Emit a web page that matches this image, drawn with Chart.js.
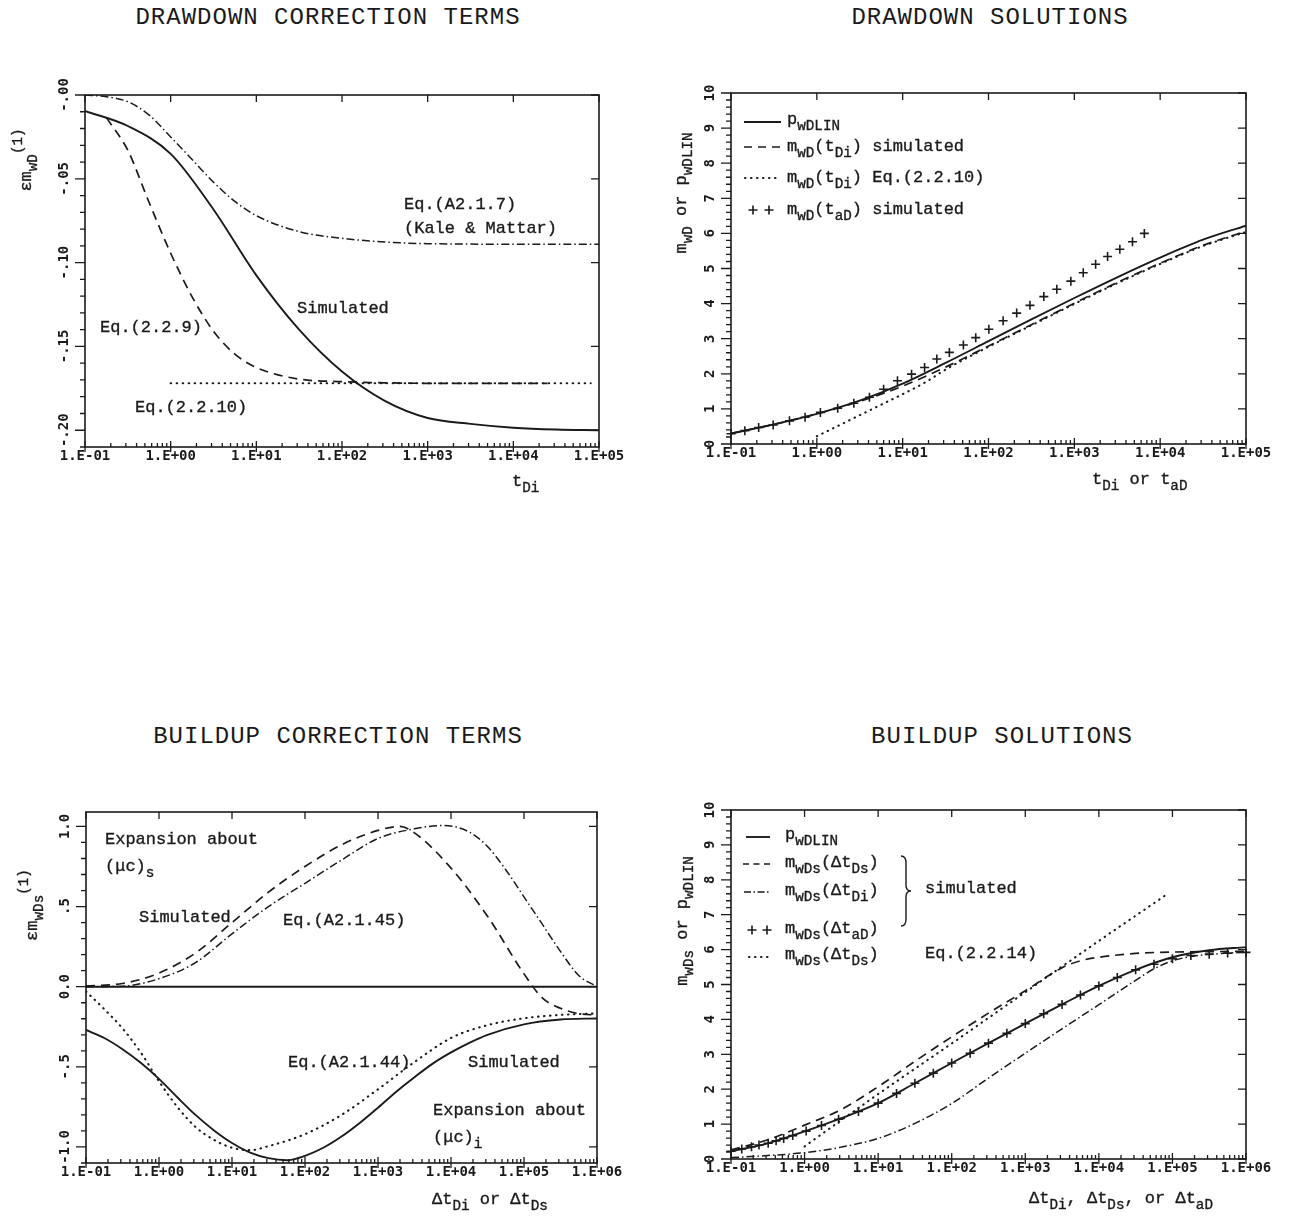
<!DOCTYPE html>
<html lang="en">
<head>
<meta charset="utf-8">
<title>Drawdown and buildup correction terms and solutions</title>
<script src="https://cdn.jsdelivr.net/npm/chart.js@4.4.1/dist/chart.umd.min.js"></script>
<style>
  html, body { margin: 0; padding: 0; background: #ffffff; }
  body { position: relative; width: 1293px; height: 1218px; overflow: hidden; }
  .title {
    position: absolute; white-space: nowrap; transform: translateX(-50%);
    font-family: "Liberation Mono", "Courier New", monospace; font-size: 24px; line-height: 24px;
    letter-spacing: 1px; color: #1a1a1a;
  }
  canvas { position: absolute; }
</style>
</head>
<body>
<div class="title" style="left:328px; top:6px;">DRAWDOWN CORRECTION TERMS</div>
<div class="title" style="left:990px; top:6px;">DRAWDOWN SOLUTIONS</div>
<div class="title" style="left:338px; top:725px;">BUILDUP CORRECTION TERMS</div>
<div class="title" style="left:1002px; top:725px;">BUILDUP SOLUTIONS</div>

<canvas id="cTL" width="646" height="470" style="left:0px; top:40px;"></canvas>
<canvas id="cTR" width="647" height="470" style="left:646px; top:40px;"></canvas>
<canvas id="cBL" width="646" height="458" style="left:0px; top:760px;"></canvas>
<canvas id="cBR" width="647" height="458" style="left:646px; top:760px;"></canvas>

<script>
// ---------- Drawdown correction terms (em_wD^(1) vs t_Di) ----------
const ddSimX   = [0.1, 0.316, 1, 3.16, 10, 31.6, 100, 316, 1000, 3160, 1e4, 3.16e4, 1e5];
const ddSimY   = [-0.0095, -0.0185, -0.0351, -0.0683, -0.1076, -0.140, -0.165, -0.1825, -0.1927, -0.1962, -0.1985, -0.1996, -0.2];
const ddEq229X = [0.178, 0.316, 0.562, 1, 1.78, 3.16, 5.62, 10, 31.6, 100, 316, 1000, 2.5e4];
const ddEq229Y = [-0.0135, -0.033, -0.0643, -0.0944, -0.1204, -0.1409, -0.1546, -0.1626, -0.1695, -0.171, -0.1717, -0.172, -0.172];
const ddEq2210X = [1, 8e4];
const ddEq2210Y = [-0.172, -0.172];
const ddKaleX  = [0.1, 0.178, 0.316, 0.562, 1, 1.78, 3.16, 5.62, 10, 31.6, 100, 316, 1000, 1e4, 1e5];
const ddKaleY  = [0, -0.001, -0.004, -0.012, -0.025, -0.0385, -0.052, -0.0635, -0.072, -0.0815, -0.0855, -0.0877, -0.0887, -0.089, -0.089];

// ---------- Drawdown solutions (m_wD or p_wDLIN vs t_Di or t_aD) ----------
const dsX     = [0.1, 0.316, 1, 3.16, 10, 31.6, 100, 316, 1000, 3160, 1e4, 3.16e4, 1e5];
const dsLinY  = [0.30, 0.56, 0.86, 1.235, 1.72, 2.31, 2.93, 3.55, 4.16, 4.75, 5.31, 5.82, 6.22];
const dsTdiY  = [0.30, 0.56, 0.86, 1.215, 1.65, 2.19, 2.79, 3.40, 4.01, 4.60, 5.15, 5.66, 6.06];
const dsEqX   = [1, 1.78, 3.16, 5.62, 10, 17.8, 31.6, 100, 316, 1000, 3160, 1e4, 3.16e4, 1e5];
const dsEqY   = [0.22, 0.52, 0.82, 1.12, 1.42, 1.74, 2.12, 2.77, 3.38, 3.99, 4.58, 5.13, 5.64, 6.04];
const dsTadX  = [0.1, 0.145, 0.21, 0.31, 0.48, 0.73, 1.1, 1.75, 2.7, 4.1, 6.0, 8.7, 12.7, 18, 25, 35, 51, 71, 101, 148,
                 213, 304, 441, 625, 911, 1270, 1770, 2440, 3390, 4760, 6540];
const dsTadY  = [0.29, 0.38, 0.47, 0.54, 0.66, 0.76, 0.90, 1.02, 1.16, 1.33, 1.56, 1.80, 1.99, 2.18, 2.42, 2.61, 2.82, 3.03,
                 3.27, 3.51, 3.73, 3.95, 4.20, 4.41, 4.64, 4.88, 5.12, 5.34, 5.55, 5.76, 6.00];

// ---------- Buildup correction terms (em_wDs^(1) vs delta t) ----------
const bcSimIX = [0.1, 0.178, 0.316, 0.562, 1, 1.78, 3.16, 5.62, 10, 17.8, 31.6, 56.2, 100, 178, 316, 562, 1000, 1780,
                 3160, 5620, 1e4, 1.78e4, 3.16e4, 1e5, 3.16e5, 1e6];
const bcSimIY = [-0.27, -0.32, -0.39, -0.475, -0.575, -0.69, -0.80, -0.895, -0.975, -1.035, -1.07, -1.083, -1.055, -1.005,
                 -0.935, -0.85, -0.755, -0.655, -0.565, -0.48, -0.41, -0.35, -0.30, -0.235, -0.205, -0.198];
const bcEq44X = [0.1, 0.178, 0.316, 0.562, 1, 1.78, 3.16, 5.62, 10, 17.8, 31.6, 100, 316, 1000, 3160, 1e4, 3.16e4, 1e5, 3.16e5, 1e6];
const bcEq44Y = [-0.03, -0.14, -0.26, -0.41, -0.59, -0.75, -0.875, -0.955, -1.005, -1.02, -0.995, -0.92, -0.80, -0.64,
                 -0.47, -0.32, -0.24, -0.197, -0.176, -0.167];
const bcSimSX = [0.1, 0.316, 1, 3.16, 10, 31.6, 100, 316, 1000, 2000, 3160, 1e4, 3.16e4, 1e5, 1.78e5, 3.16e5, 5.62e5, 1e6];
const bcSimSY = [0.005, 0.02, 0.085, 0.21, 0.40, 0.59, 0.75, 0.885, 0.975, 1.0, 0.96, 0.74, 0.44, 0.08, -0.07, -0.135, -0.168, -0.177];
const bcEq45X = [0.1, 0.316, 1, 3.16, 10, 31.6, 100, 316, 1000, 3160, 7940, 1.78e4, 3.16e4, 5.62e4, 1e5, 1.78e5, 3.16e5, 5.62e5, 1e6];
const bcEq45Y = [0, 0.003, 0.05, 0.15, 0.33, 0.50, 0.645, 0.79, 0.925, 0.985, 1.006, 0.965, 0.875, 0.73, 0.56, 0.39, 0.22, 0.07, 0.0];
const bcZeroX = [0.1, 1e6];
const bcZeroY = [0, 0];

// ---------- Buildup solutions (m_wDs or p_wDLIN vs delta t) ----------
const buX     = [0.1, 0.316, 1, 3.16, 10, 31.6, 100, 316, 1000, 3160, 1e4, 3.16e4, 1e5, 3.16e5, 1e6];
const buLinY  = [0.22, 0.45, 0.79, 1.17, 1.60, 2.17, 2.75, 3.32, 3.88, 4.43, 4.96, 5.42, 5.78, 5.98, 6.07];
const buDsX   = [0.1, 0.316, 1, 3.16, 10, 31.6, 100, 316, 1000, 3160, 5620, 1e4, 3.16e4, 1e5, 1e6];
const buDsY   = [0.26, 0.55, 0.97, 1.42, 2.07, 2.80, 3.50, 4.18, 4.82, 5.48, 5.68, 5.78, 5.89, 5.93, 5.95];
const buDiX   = [0.1, 0.316, 1, 3.16, 10, 31.6, 100, 316, 1000, 3160, 1e4, 3.16e4, 5.62e4, 1e5, 1.78e5, 3.16e5, 1e6];
const buDiY   = [0.04, 0.10, 0.18, 0.34, 0.59, 1.02, 1.59, 2.32, 3.03, 3.73, 4.42, 5.12, 5.45, 5.68, 5.80, 5.86, 5.93];
const buEqX   = [1, 10, 100, 1e3, 1e4, 8.1e4];
const buEqY   = [0.36, 1.86, 3.31, 4.78, 6.25, 7.56];
const buTadX  = [0.1, 0.14, 0.19, 0.24, 0.32, 0.41, 0.52, 0.69, 1.05, 1.7, 2.9, 5.4, 10, 17.8, 31.6, 56.2, 100, 178, 316, 562,
                 1000, 1780, 3160, 5620, 1e4, 1.78e4, 3.16e4, 5.62e4, 1e5, 1.78e5, 3.16e5, 5.62e5, 1e6];
const buTadY  = [0.22, 0.29, 0.35, 0.40, 0.45, 0.52, 0.59, 0.67, 0.80, 0.96, 1.14, 1.36, 1.60, 1.88, 2.17, 2.46, 2.75, 3.03,
                 3.32, 3.60, 3.88, 4.16, 4.43, 4.70, 4.96, 5.20, 5.42, 5.58, 5.74, 5.83, 5.87, 5.90, 5.92];

// ---------- y-axis ticks ----------
const ddCorrTicks = [0, -0.05, -0.10, -0.15, -0.20];
const ddCorrLabels = ['-.00', '-.05', '-.10', '-.15', '-.20'];
const solTicks = [0, 1, 2, 3, 4, 5, 6, 7, 8, 9, 10];
const solLabels = ['0', '1', '2', '3', '4', '5', '6', '7', '8', '9', '10'];
const bcTicks = [1, 0.5, 0, -0.5, -1];
const bcLabels = ['1.0', '.5', '0.0', '-.5', '-1.0'];

// ---------- drawing helpers ----------
const INK = '#1b1b1b';
const MONO = '"Liberation Mono", "Courier New", monospace';
const TICKFONT = '"DejaVu Sans Mono", monospace';
const XH = 40;

const STYLE = {
  solid:   { borderDash: [], borderWidth: 1.9, borderCapStyle: 'butt' },
  dashed:  { borderDash: [9, 6], borderWidth: 1.7, borderCapStyle: 'butt' },
  dotted:  { borderDash: [0.5, 5.5], borderWidth: 2.1, borderCapStyle: 'round' },
  dashdot: { borderDash: [8, 3, 1.5, 3], borderWidth: 1.5, borderCapStyle: 'butt' }
};

function pts(xs, ys) { return xs.map((x, i) => ({ x: x, y: ys[i] })); }

function curve(xs, ys, kind) {
  return Object.assign({
    data: pts(xs, ys), showLine: true, pointRadius: 0, pointHoverRadius: 0,
    borderColor: INK, backgroundColor: INK, fill: false, cubicInterpolationMode: 'monotone'
  }, STYLE[kind]);
}

function crosses(xs, ys) {
  return {
    data: pts(xs, ys), showLine: false, pointStyle: 'cross', pointRadius: 4.5, pointHoverRadius: 4.5,
    pointBorderWidth: 1.6, borderColor: INK, pointBorderColor: INK, backgroundColor: INK, clip: false
  };
}

function expLabel(v) {
  const e = Math.round(Math.log10(v));
  return '1.E' + (e < 0 ? '-' : '+') + String(Math.abs(e)).padStart(2, '0');
}

// simple markup: _{..} subscript, ^{..} superscript
function parseRich(s) {
  const out = []; let buf = '', i = 0;
  while (i < s.length) {
    const c = s[i];
    if ((c === '_' || c === '^') && s[i + 1] === '{') {
      if (buf) { out.push({ t: buf, k: 0 }); buf = ''; }
      const j = s.indexOf('}', i + 2);
      out.push({ t: s.slice(i + 2, j), k: c === '_' ? 1 : -1 });
      i = j + 1;
    } else { buf += c; i++; }
  }
  if (buf) out.push({ t: buf, k: 0 });
  return out;
}

function richText(ctx, s, x, y, align) {
  const size = 17;
  const parts = parseRich(s);
  let w = 0;
  parts.forEach(p => {
    p.size = p.k ? size * 0.84 : size;
    ctx.font = p.size + 'px ' + MONO;
    p.w = ctx.measureText(p.t).width; w += p.w;
  });
  let cx = align === 'center' ? x - w / 2 : x;
  ctx.textAlign = 'left'; ctx.textBaseline = 'middle';
  ctx.lineWidth = 0.35;
  parts.forEach(p => {
    ctx.font = p.size + 'px ' + MONO;
    const dy = p.k === 1 ? size * 0.4 : (p.k === -1 ? -size * 0.45 : 0);
    ctx.fillText(p.t, cx, y + dy);
    ctx.strokeText(p.t, cx, y + dy);
    cx += p.w;
  });
}

function sampleLine(ctx, kind, x1, x2, y, dash) {
  const st = STYLE[kind];
  ctx.save();
  ctx.setLineDash(dash || st.borderDash); ctx.lineWidth = st.borderWidth; ctx.lineCap = st.borderCapStyle;
  ctx.beginPath(); ctx.moveTo(x1, y); ctx.lineTo(x2, y); ctx.stroke();
  ctx.restore();
}

function plusMark(ctx, x, y, r) {
  ctx.save(); ctx.setLineDash([]); ctx.lineWidth = 1.6;
  ctx.beginPath(); ctx.moveTo(x - r, y); ctx.lineTo(x + r, y); ctx.moveTo(x, y - r); ctx.lineTo(x, y + r); ctx.stroke();
  ctx.restore();
}

function brace(ctx, x, y1, y2) {
  const ym = (y1 + y2) / 2, s = 5, w = 10;
  ctx.save(); ctx.setLineDash([]); ctx.lineWidth = 1.4;
  ctx.beginPath();
  ctx.moveTo(x, y1);
  ctx.quadraticCurveTo(x + s, y1, x + s, y1 + 7);
  ctx.lineTo(x + s, ym - 6);
  ctx.quadraticCurveTo(x + s, ym, x + w, ym);
  ctx.quadraticCurveTo(x + s, ym, x + s, ym + 6);
  ctx.lineTo(x + s, y2 - 7);
  ctx.quadraticCurveTo(x + s, y2, x, y2);
  ctx.stroke();
  ctx.restore();
}

// frame, tick marks, rotated y labels and annotations of one panel
function framePlugin(cfg) {
  return {
    id: 'frame' + cfg.canvas,
    afterDatasetsDraw(chart) {
      const ctx = chart.ctx, a = chart.chartArea, sx = chart.scales.x, sy = chart.scales.y;
      ctx.save();
      ctx.setLineDash([]);
      ctx.strokeStyle = INK; ctx.fillStyle = INK;
      ctx.lineWidth = 1.6;
      ctx.strokeRect(a.left, a.top, a.right - a.left, a.bottom - a.top);

      ctx.lineWidth = 1.3;
      ctx.beginPath();
      for (let e = cfg.xExp[0]; e <= cfg.xExp[1]; e++) {
        const d = Math.pow(10, e), p = sx.getPixelForValue(d);
        ctx.moveTo(p, a.bottom + 5); ctx.lineTo(p, a.bottom - 6);
        ctx.moveTo(p, a.top); ctx.lineTo(p, a.top + 7);
        if (e === cfg.xExp[1]) break;
        for (let k = 2; k <= 9; k++) {
          const q = sx.getPixelForValue(k * d);
          ctx.moveTo(q, a.bottom); ctx.lineTo(q, a.bottom - 4);
        }
      }
      const n0 = Math.ceil(cfg.yMin / cfg.yMinor - 1e-6), n1 = Math.floor(cfg.yMax / cfg.yMinor + 1e-6);
      for (let i = n0; i <= n1; i++) {
        const v = i * cfg.yMinor, p = sy.getPixelForValue(v);
        const r = v / cfg.yStep, major = Math.abs(r - Math.round(r)) < 1e-6;
        ctx.moveTo(a.left, p); ctx.lineTo(a.left - (major ? 10 : 5), p);
        if (major) { ctx.moveTo(a.right, p); ctx.lineTo(a.right - 8, p); }
      }
      ctx.stroke();

      ctx.font = 'bold 14px ' + TICKFONT;
      ctx.textAlign = 'center'; ctx.textBaseline = 'middle';
      cfg.yTicks.forEach((v, i) => {
        ctx.save();
        ctx.translate(a.left - 21, sy.getPixelForValue(v));
        ctx.rotate(-Math.PI / 2);
        ctx.fillText(cfg.yLabels[i], 0, 0);
        ctx.restore();
      });

      // annotations are laid out in page coordinates
      ctx.translate(-cfg.box.x, -cfg.box.y);
      (cfg.notes || []).forEach(n => richText(ctx, n[0], n[1], n[2], 'left'));
      (cfg.rot || []).forEach(n => {
        ctx.save(); ctx.translate(n[1], n[2]); ctx.rotate(-Math.PI / 2);
        richText(ctx, n[0], 0, 0, 'center');
        ctx.restore();
      });
      if (cfg.legend) cfg.legend(ctx);
      ctx.restore();
    }
  };
}

function panel(cfg) {
  const box = cfg.box, area = cfg.area;
  const decades = [];
  for (let e = cfg.xExp[0]; e <= cfg.xExp[1]; e++) decades.push(Math.pow(10, e));
  return new Chart(document.getElementById(cfg.canvas), {
    type: 'scatter',
    data: { datasets: cfg.datasets },
    options: {
      responsive: false, animation: false, events: [], devicePixelRatio: 1,
      layout: { padding: { left: area.l - box.x, top: area.t - box.y, right: box.x + box.w - area.r, bottom: box.y + box.h - area.b - XH } },
      plugins: { legend: { display: false }, tooltip: { enabled: false }, title: { display: false } },
      scales: {
        x: {
          type: 'logarithmic', min: decades[0], max: decades[decades.length - 1],
          grid: { display: false, drawTicks: false }, border: { display: false },
          afterBuildTicks: s => { s.ticks = decades.map(v => ({ value: v, major: true })); },
          afterFit: s => { s.height = XH; },
          ticks: {
            autoSkip: false, maxRotation: 0, minRotation: 0, padding: 1, color: INK,
            font: { family: TICKFONT, size: 14, weight: 'bold' },
            callback: v => expLabel(v)
          }
        },
        y: {
          type: 'linear', min: cfg.yMin, max: cfg.yMax,
          grid: { display: false, drawTicks: false }, border: { display: false },
          ticks: { display: false },
          afterFit: s => { s.width = 0; }
        }
      }
    },
    plugins: [framePlugin(cfg)]
  });
}

// ---------- panels ----------
panel({
  canvas: 'cTL', box: { x: 0, y: 40, w: 646, h: 470 }, area: { l: 85, t: 95, r: 599, b: 447 },
  xExp: [-1, 5], yMin: -0.21, yMax: 0, yStep: 0.05, yMinor: 0.01,
  yTicks: ddCorrTicks, yLabels: ddCorrLabels,
  datasets: [
    curve(ddKaleX, ddKaleY, 'dashdot'),
    curve(ddEq2210X, ddEq2210Y, 'dotted'),
    curve(ddEq229X, ddEq229Y, 'dashed'),
    curve(ddSimX, ddSimY, 'solid')
  ],
  notes: [
    ['Eq.(A2.1.7)', 404, 204],
    ['(Kale & Mattar)', 404, 228],
    ['Simulated', 297, 308],
    ['Eq.(2.2.9)', 100, 327],
    ['Eq.(2.2.10)', 135, 407],
    ['t_{Di}', 512, 481]
  ],
  rot: [['εm_{wD}^{(1)}', 26, 160]]
});

panel({
  canvas: 'cTR', box: { x: 646, y: 40, w: 647, h: 470 }, area: { l: 731, t: 93, r: 1246, b: 444 },
  xExp: [-1, 5], yMin: 0, yMax: 10, yStep: 1, yMinor: 0.2,
  yTicks: solTicks, yLabels: solLabels,
  datasets: [
    curve(dsEqX, dsEqY, 'dotted'),
    curve(dsX, dsTdiY, 'dashed'),
    curve(dsX, dsLinY, 'solid'),
    crosses(dsTadX, dsTadY)
  ],
  notes: [
    ['p_{wDLIN}', 787, 119],
    ['m_{wD}(t_{Di}) simulated', 787, 146],
    ['m_{wD}(t_{Di}) Eq.(2.2.10)', 787, 177],
    ['m_{wD}(t_{aD}) simulated', 787, 209],
    ['t_{Di} or t_{aD}', 1092, 479]
  ],
  rot: [['m_{wD} or p_{wDLIN}', 681, 193]],
  legend: ctx => {
    sampleLine(ctx, 'solid', 744, 781, 122);
    sampleLine(ctx, 'dashed', 744, 781, 147, [8, 6]);
    sampleLine(ctx, 'dotted', 745, 781, 178);
    plusMark(ctx, 753, 210, 4.5);
    plusMark(ctx, 769, 210, 4.5);
  }
});

panel({
  canvas: 'cBL', box: { x: 0, y: 760, w: 646, h: 458 }, area: { l: 86, t: 812, r: 597, b: 1163 },
  xExp: [-1, 6], yMin: -1.10, yMax: 1.09, yStep: 0.5, yMinor: 0.1,
  yTicks: bcTicks, yLabels: bcLabels,
  datasets: [
    curve(bcZeroX, bcZeroY, 'solid'),
    curve(bcEq45X, bcEq45Y, 'dashdot'),
    curve(bcSimSX, bcSimSY, 'dashed'),
    curve(bcEq44X, bcEq44Y, 'dotted'),
    curve(bcSimIX, bcSimIY, 'solid')
  ],
  notes: [
    ['Expansion about', 105, 839],
    ['(μc)_{s}', 105, 866],
    ['Simulated', 139, 917],
    ['Eq.(A2.1.45)', 283, 920],
    ['Eq.(A2.1.44)', 288, 1062],
    ['Simulated', 468, 1062],
    ['Expansion about', 433, 1110],
    ['(μc)_{i}', 433, 1137],
    ['Δt_{Di} or Δt_{Ds}', 432, 1199]
  ],
  rot: [['εm_{wDs}^{(1)}', 32, 905]]
});

panel({
  canvas: 'cBR', box: { x: 646, y: 760, w: 647, h: 458 }, area: { l: 731, t: 810, r: 1246, b: 1159 },
  xExp: [-1, 6], yMin: 0, yMax: 10, yStep: 1, yMinor: 0.2,
  yTicks: solTicks, yLabels: solLabels,
  datasets: [
    curve(buEqX, buEqY, 'dotted'),
    curve(buDiX, buDiY, 'dashdot'),
    curve(buDsX, buDsY, 'dashed'),
    curve(buX, buLinY, 'solid'),
    crosses(buTadX, buTadY)
  ],
  notes: [
    ['p_{wDLIN}', 785, 834],
    ['m_{wDs}(Δt_{Ds})', 785, 862],
    ['m_{wDs}(Δt_{Di})', 785, 890],
    ['m_{wDs}(Δt_{aD})', 785, 928],
    ['m_{wDs}(Δt_{Ds})', 785, 954],
    ['simulated', 925, 888],
    ['Eq.(2.2.14)', 925, 953],
    ['Δt_{Di}, Δt_{Ds}, or Δt_{aD}', 1029, 1198]
  ],
  rot: [['m_{wDs} or p_{wDLIN}', 682, 921]],
  legend: ctx => {
    sampleLine(ctx, 'solid', 746, 770, 837);
    sampleLine(ctx, 'dashed', 743, 770, 864, [6, 4.5]);
    sampleLine(ctx, 'dashdot', 744, 770, 892, [7, 2.5, 1.5, 2.5]);
    plusMark(ctx, 752, 930, 4.5);
    plusMark(ctx, 767, 930, 4.5);
    sampleLine(ctx, 'dotted', 749, 772, 957);
    brace(ctx, 901, 856, 926);
  }
});
</script>
</body>
</html>
